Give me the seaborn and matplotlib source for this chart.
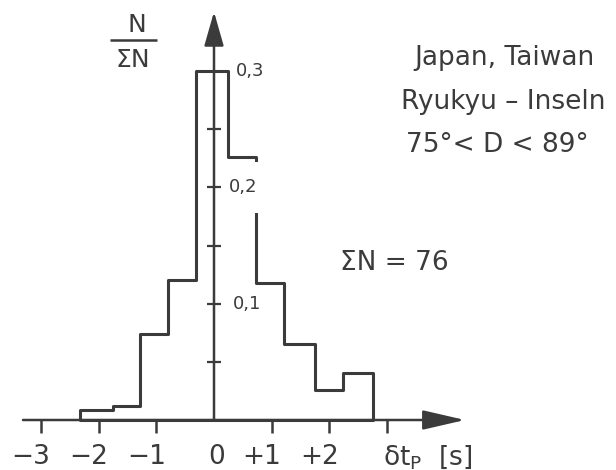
import numpy as np
import matplotlib
matplotlib.use("Agg")
import matplotlib.pyplot as plt
import seaborn as sns

# histogram: bin edges (s) and relative frequency N / sum N
bin_edges = [-2.32, -1.75, -1.28, -0.80, -0.31, 0.24, 0.73, 1.21, 1.75, 2.24, 2.75]
rel_freq = [0.009, 0.012, 0.074, 0.120, 0.300, 0.226, 0.118, 0.065, 0.026, 0.040]

x_ticks = [-3, -2, -1, 1, 2, 3]
x_labels = ["\u22123", "\u22122", "\u22121", "0", "+1", "+2"]
x_label_pos = [-3, -2, -1, 0, 1, 2]
y_ticks = [0.05, 0.10, 0.15, 0.20, 0.25]
y_labels = ["0,1", "0,2", "0,3"]
y_label_pos = [0.1, 0.2, 0.3]

INK = "#3b3b3b"

sns.set_style("white")
plt.rcParams["font.family"] = ["DejaVu Sans"]
plt.rcParams["mathtext.fontset"] = "dejavusans"

# axes fill the figure; limits chosen so that 1 s = 57.7 px and 0.1 = 116.3 px
fig = plt.figure(figsize=(6.16, 4.70), dpi=100)
ax = fig.add_axes([0, 0, 1, 1])
ax.set_xlim(-214 / 57.7, (616 - 214) / 57.7)
ax.set_ylim(-(470 - 420) / 1163, 420 / 1163)
ax.set_axisbelow(False)

centers = (np.array(bin_edges[:-1]) + np.array(bin_edges[1:])) / 2
sns.histplot(x=centers, weights=rel_freq, bins=bin_edges, element="step",
             fill=True, ax=ax)
for coll in ax.collections:
    coll.set_facecolor("none")
    coll.set_edgecolor(INK)
    coll.set_linewidth(2.2)
    coll.set_alpha(1)
    coll.set_zorder(1)

for side in ax.spines.values():
    side.set_visible(False)
ax.spines["bottom"].set_position(("data", 0))
ax.spines["left"].set_position(("data", 0))
ax.set_xticks(x_ticks)
ax.set_xticklabels([])
ax.set_yticks(y_ticks)
ax.set_yticklabels([])
ax.tick_params(axis="x", bottom=True, direction="out", length=9, width=1.8,
               color=INK)
ax.tick_params(axis="y", left=True, direction="inout", length=10, width=1.6,
               color=INK)
ax.set_xlabel("")
ax.set_ylabel("")

# axes drawn as arrows
arrow = dict(arrowstyle="-|>,head_length=1.3,head_width=0.3", color=INK,
             lw=1.8, shrinkA=0, shrinkB=0, mutation_scale=20)
ax.annotate("", xy=(4.35, 0), xytext=(-3.31, 0), arrowprops=arrow, zorder=3)
arrow_y = dict(arrow, arrowstyle="-|>,head_length=1.05,head_width=0.3")
ax.annotate("", xy=(0, 0.351), xytext=(0, 0), arrowprops=arrow_y, zorder=3)

# tick labels
for pos, lab in zip(x_label_pos, x_labels):
    off = 0.05 if lab == "0" else -0.17
    ax.text(pos + off, -0.032, lab, ha="center", va="center", fontsize=19,
            color=INK)
ax.text(3.71, -0.032, r"$\mathregular{\delta t_P}$  [s]", ha="center",
        va="center", fontsize=19, color=INK)

for pos, lab in zip(y_label_pos, y_labels):
    xo = {0.1: 0.33, 0.2: 0.26, 0.3: 0.38}[pos]
    t = ax.text(xo, pos, lab, ha="left", va="center", fontsize=13, color=INK,
                zorder=2)
    if lab == "0,2":
        t.set_bbox(dict(facecolor="white", edgecolor="none",
                        boxstyle="square,pad=0.9"))

# axis title as a hand-set fraction
ax.text(-1.33, 0.3395, "N", ha="center", va="center", fontsize=18, color=INK)
ax.text(-1.40, 0.3095, "\u03a3N", ha="center", va="center", fontsize=18,
        color=INK)
ax.plot([-1.80, -0.98], [0.3268, 0.3268], color=INK, lw=1.8,
        solid_capstyle="butt")

# annotations
ax.text((504 - 214) / 57.7, (420 - 58) / 1163, "Japan, Taiwan", ha="center",
        va="center", fontsize=19, color=INK)
ax.text((503 - 214) / 57.7, (420 - 102) / 1163, "Ryukyu \u2013 Inseln",
        ha="center", va="center", fontsize=19, color=INK)
ax.text((497 - 214) / 57.7, (420 - 145) / 1163, "75\u00b0< D < 89\u00b0",
        ha="center", va="center", fontsize=19, color=INK)
ax.text((394 - 214) / 57.7, (420 - 263) / 1163, "\u03a3N = 76", ha="center",
        va="center", fontsize=19, color=INK)

fig.savefig("out.png", dpi=100, facecolor="white")
